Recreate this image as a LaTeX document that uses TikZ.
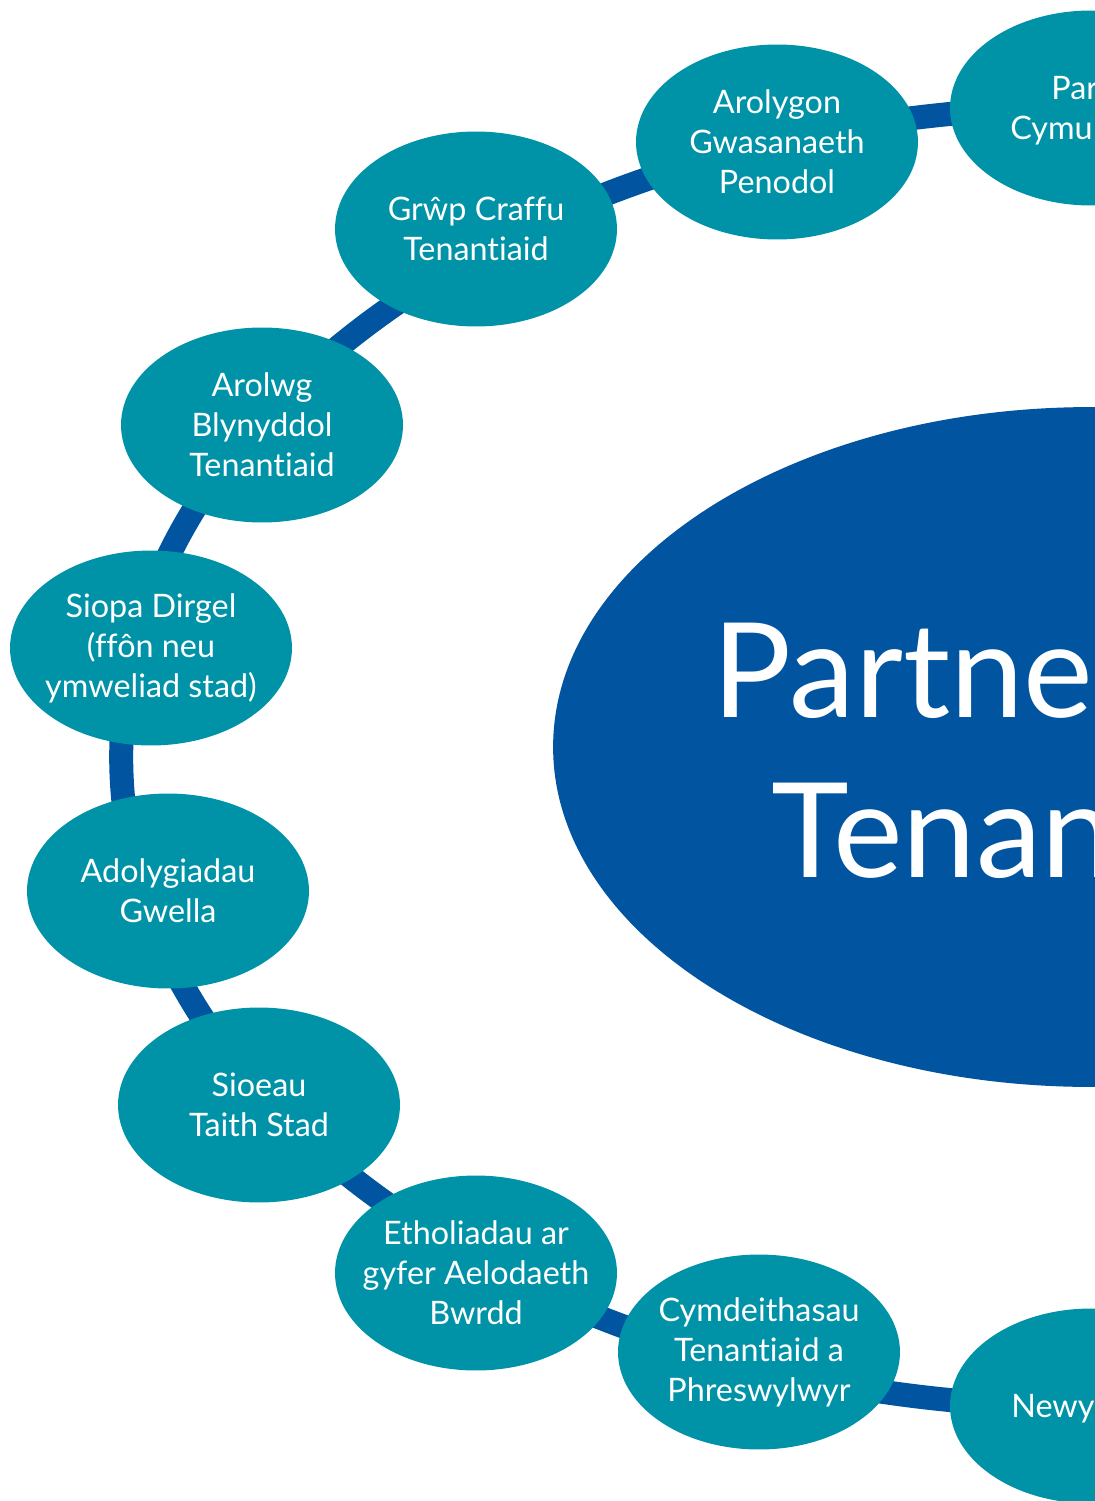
\documentclass[tikz,border=0pt]{standalone}
\usepackage{fontspec}
\setmainfont{Lato}[Ligatures={NoCommon}]
\usepackage{tikz}
\usetikzlibrary{shapes,arrows}
\usetikzlibrary{backgrounds}
\definecolor{tealfill}{RGB}{0,147,168}
\definecolor{ringblue}{RGB}{0,84,160}
\tikzstyle{item} = [ellipse, fill=tealfill, minimum width=5.64cm, minimum height=3.9cm, inner xsep=-8pt, inner ysep=0pt, text=white, align=center, font=\fontsize{18.4}{22.7}\selectfont]
\tikzstyle{hubbox} = [ellipse, fill=ringblue, minimum width=21.52cm, minimum height=13.6cm, inner sep=0pt]
\tikzstyle{cuttext} = [anchor=base west, inner sep=0pt, text=white, font=\fontsize{18.4}{22.7}\selectfont]
\tikzstyle{bigtext} = [anchor=base west, inner sep=0pt, text=white, font=\fontsize{75}{90.7}\selectfont]
\tikzstyle{ring} = [line width=0.48cm, draw=ringblue]
\begin{document}
\begin{tikzpicture}[x=0.02cm, y=-0.02cm]
\useasboundingbox (0,0) rectangle (1095,1501);
\clip (0,0) rectangle (1095,1501);
% nodes
\node (hub) [hubbox] at (1091,747) {};
\node (hubtop) [bigtext] at (712,717) {Partne};
\node (hubbot) [bigtext] at (771,877) {Tenan};

\node (partcym) [item] at (1091,108) {};
\node (partcymA) [cuttext] at (1051,99) {Par};
\node (partcymB) [cuttext] at (1010,139) {Cymun};
\node (arolygon) [item] at (777,142) {Arolygon\\Gwasanaeth\\Penodol};
\node (grwp) [item] at (476,229) {Grŵp Craffu\\Tenantiaid};
\node (arolwg) [item] at (262,425) {Arolwg\\Blynyddol\\Tenantiaid};
\node (siopa) [item] at (151,648) {Siopa Dirgel\\(ffôn neu\\ymweliad stad)};
\node (adolyg) [item] at (168,891) {Adolygiadau\\Gwella};
\node (sioeau) [item] at (259,1105) {Sioeau\\Taith Stad};
\node (etholiad) [item] at (476,1273) {Etholiadau ar\\gyfer Aelodaeth\\Bwrdd};
\node (cymdeith) [item] at (759,1352) {Cymdeithasau\\Tenantiaid a\\Phreswylwyr};
\node (newy) [item] at (1091,1406) {};
\node (newyA) [cuttext] at (1011,1417) {Newyd};

% ring behind the nodes
\begin{scope}[on background layer]
\draw [ring] ([yshift=-0.2cm]hub.center) ellipse [x radius=19.4cm, y radius=13cm];
\end{scope}

\end{tikzpicture}
\end{document}
